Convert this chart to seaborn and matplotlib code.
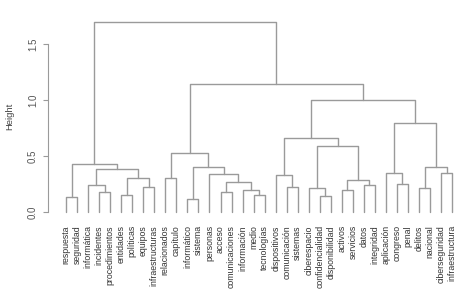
import pandas as pd
import seaborn as sns
import matplotlib.pyplot as plt

# Hojas del dendrograma, en el orden en que aparecen
etiquetas = ['respuesta', 'seguridad', 'informática', 'incidentes', 'procedimientos',
             'entidades', 'políticas', 'equipos', 'infraestructuras', 'relacionados',
             'capítulo', 'informático', 'sistema', 'personas', 'acceso',
             'comunicaciones', 'información', 'medio', 'tecnologías', 'dispositivos',
             'comunicación', 'sistemas', 'ciberespacio', 'confidencialidad',
             'disponibilidad', 'activos', 'servicios', 'datos', 'integridad',
             'aplicación', 'congreso', 'penal', 'delitos', 'nacional',
             'ciberseguridad', 'infraestructura']

# Uniones estilo hclust de R: negativo = hoja, positivo = fila de union previa
union_izq = [-1, -4, -3, -6, -8, 4, 3, 1, -10, -12, -15, -18, -17, 11, -14, 10, 9,
             -21, -20, -24, -23, -26, -28, 22, 21, 19, -31, -30, -33, -35, 29, 28, 26, 17, 8]
union_der = [-2, -5, 2, -7, -9, 5, 6, 7, -11, -13, -16, -19, 12, 13, 14, 15, 16,
             -22, 18, -25, 20, -27, -29, 23, 24, 25, -32, 27, -34, -36, 30, 31, 32, 33, 34]
altura = [0.13, 0.18, 0.24, 0.15, 0.22, 0.30, 0.38, 0.43, 0.30, 0.12, 0.18, 0.15, 0.20,
          0.27, 0.34, 0.40, 0.53, 0.22, 0.33, 0.14, 0.21, 0.20, 0.24, 0.29, 0.59, 0.66,
          0.25, 0.35, 0.21, 0.35, 0.40, 0.79, 1.00, 1.14, 1.70]

# Posicion y altura de cada nodo
pos_x = {}
pos_y = {}
def nodo(k):
    if k < 0:
        return -k, 0.0
    return pos_x[k], pos_y[k]

filas = []
for i, (a, b, h) in enumerate(zip(union_izq, union_der, altura), start=1):
    xa, ya = nodo(a)
    xb, yb = nodo(b)
    pos_x[i] = (xa + xb) / 2
    pos_y[i] = h
    for orden, (x, y) in enumerate([(xa, ya), (xa, h), (xb, h), (xb, yb)]):
        filas.append({'seg': i, 'orden': orden, 'x': x, 'y': y})
df = pd.DataFrame(filas)

sns.set_theme(style='ticks')
plt.rcParams['font.family'] = ['Liberation Sans', 'DejaVu Sans']

fig = plt.figure(figsize=(4.66, 2.96), dpi=100)
ax = fig.add_axes([0.104, 0.258, 0.878, 0.695])

sns.lineplot(data=df, x='x', y='y', units='seg', estimator=None, sort=False,
             color='#9a9a9a', linewidth=1.0, ax=ax)

ax.set_xlim(-0.6, 36.5)
ax.set_ylim(-0.068, 1.768)
ax.set_xticks(range(1, len(etiquetas) + 1))
ax.set_xticklabels(etiquetas, rotation=90, fontsize=6.3, color='#333333')
ax.tick_params(axis='x', length=0, pad=4)
ax.set_yticks([0.0, 0.5, 1.0, 1.5])
ax.set_yticklabels(['0.0', '0.5', '1.0', '1.5'], rotation=90, va='center',
                   fontsize=7, color='#555555')
ax.tick_params(axis='y', length=3.5, width=0.8, color='#9a9a9a', pad=4)
ax.set_xlabel('')
ax.set_ylabel('Height', fontsize=6.8, color='#444444', labelpad=10)

sns.despine(ax=ax, bottom=True)
ax.spines['left'].set_bounds(0, 1.5)
ax.spines['left'].set_color('#9a9a9a')
ax.spines['left'].set_linewidth(0.8)

fig.savefig('out.png', dpi=100)
